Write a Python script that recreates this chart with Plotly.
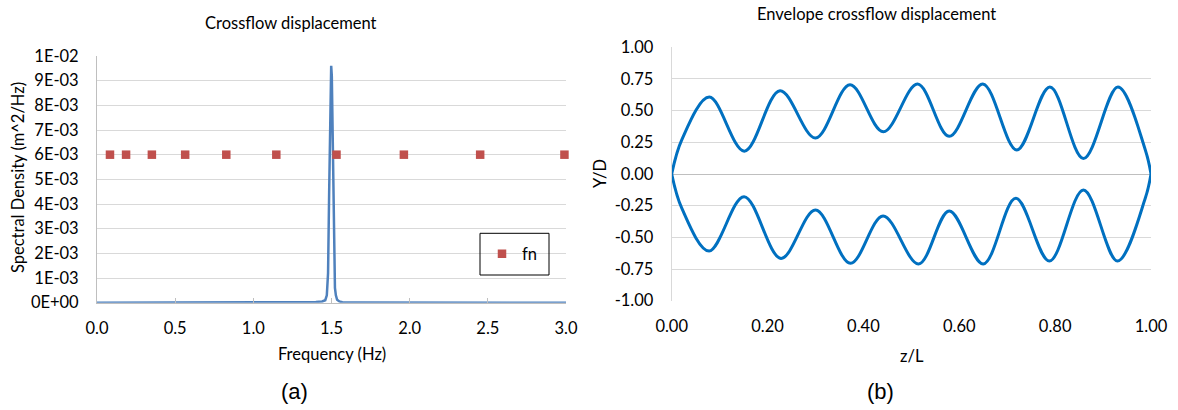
import plotly.graph_objects as go

# ---- Panel (a): crossflow displacement spectrum ----
freq_hz = [0.00, 0.50, 1.00, 1.30, 1.40, 1.44, 1.46, 1.470, 1.478, 1.485, 1.491,
           1.495, 1.498, 1.502, 1.505, 1.508, 1.512, 1.517, 1.522, 1.528, 1.536,
           1.550, 1.570, 1.650, 2.00, 2.50, 3.00]
psd = [0.0, 0.0, 0.0, 0.00001, 0.00003, 0.00005, 0.00010, 0.00030, 0.0012, 0.0045,
       0.0075, 0.0090, 0.0096, 0.0092, 0.0080, 0.0060, 0.0035, 0.0013, 0.0006,
       0.0003, 0.00012, 0.00005, 0.00002, 0.00001, 0.0, 0.0, 0.0]

# natural frequencies
fn_hz = [0.083, 0.186, 0.351, 0.564, 0.827, 1.147, 1.532, 1.963, 2.451, 2.99]
fn_level = [0.006] * len(fn_hz)

psd_ticks = [0.000, 0.001, 0.002, 0.003, 0.004, 0.005, 0.006, 0.007, 0.008, 0.009, 0.010]
psd_tick_labels = ["0E+00", "1E-03", "2E-03", "3E-03", "4E-03", "5E-03",
                   "6E-03", "7E-03", "8E-03", "9E-03", "1E-02"]

# ---- Panel (b): envelope of crossflow displacement ----
z_over_l_up = [0.000, 0.021, 0.0785, 0.1515, 0.226, 0.300, 0.372, 0.4415, 0.513,
               0.579, 0.649, 0.720, 0.789, 0.859, 0.931, 0.988, 1.000]
yd_upper = [0.000, 0.270, 0.607, 0.180, 0.657, 0.284, 0.704, 0.333, 0.710,
            0.297, 0.710, 0.190, 0.686, 0.122, 0.686, 0.192, 0.000]
z_over_l_low = [0.000, 0.021, 0.078, 0.151, 0.228, 0.300, 0.373, 0.441, 0.515,
                0.579, 0.650, 0.718, 0.788, 0.859, 0.930, 0.988, 1.000]
yd_lower = [0.000, -0.270, -0.608, -0.179, -0.666, -0.284, -0.705, -0.331, -0.710,
            -0.292, -0.710, -0.192, -0.687, -0.126, -0.687, -0.192, 0.000]

yd_ticks = [-1.0, -0.75, -0.5, -0.25, 0.0, 0.25, 0.5, 0.75, 1.0]
yd_tick_labels = ["-1.00", "-0.75", "-0.50", "-0.25", "0.00", "0.25", "0.50", "0.75", "1.00"]
zl_ticks = [0.0, 0.2, 0.4, 0.6, 0.8, 1.0]
zl_tick_labels = ["0.00", "0.20", "0.40", "0.60", "0.80", "1.00"]

W, H = 1178, 410
FONT = "Lato, Calibri, sans-serif"
GRID = "#D9D9D9"
AXIS = "#BFBFBF"


def px_x(p):
    return p / W


def px_y(p):
    return 1 - p / H


fig = go.Figure()

fig.add_trace(go.Scatter(
    x=freq_hz, y=psd, mode="lines", name="PSD",
    line=dict(color="#4F81BD", width=2.5),
    xaxis="x", yaxis="y", showlegend=False,
))
fig.add_trace(go.Scatter(
    x=fn_hz, y=fn_level, mode="markers", name="fn",
    marker=dict(symbol="square", size=8.5, color="#C0504D"),
    xaxis="x", yaxis="y", cliponaxis=False,
))
fig.add_trace(go.Scatter(
    x=z_over_l_up, y=yd_upper, mode="lines", line=dict(color="#0070C0", width=3,
    shape="spline", smoothing=1.0), xaxis="x2", yaxis="y2", showlegend=False,
))
fig.add_trace(go.Scatter(
    x=z_over_l_low, y=yd_lower, mode="lines", line=dict(color="#0070C0", width=3,
    shape="spline", smoothing=1.0), xaxis="x2", yaxis="y2", showlegend=False,
))

tick_font = dict(family=FONT, size=16.5, color="#000000")

fig.update_layout(
    width=W, height=H, autosize=False,
    margin=dict(l=0, r=0, t=0, b=0, pad=0, autoexpand=False),
    paper_bgcolor="white", plot_bgcolor="white",
    font=dict(family=FONT, size=16.5, color="#000000"),
    xaxis=dict(
        domain=[px_x(97), px_x(566)], anchor="y", automargin=False,
        range=[0, 3.0], tickvals=[0, 0.5, 1.0, 1.5, 2.0, 2.5, 3.0],
        ticktext=["0.0", "0.5", "1.0", "1.5", "2.0", "2.5", "3.0"],
        showgrid=False, zeroline=False, showline=True, linecolor=AXIS, linewidth=1,
        ticks="inside", ticklen=5, tickcolor=AXIS, tickfont=tick_font,
        ticklabelstandoff=10,
    ),
    yaxis=dict(
        domain=[px_y(302.7), px_y(56)], anchor="x", automargin=False,
        range=[0, 0.010], tickvals=psd_ticks, ticktext=psd_tick_labels,
        showgrid=True, gridcolor=GRID, gridwidth=1, zeroline=False,
        showline=True, linecolor=AXIS, linewidth=1, ticks="", tickfont=tick_font,
        ticklabelstandoff=14,
    ),
    xaxis2=dict(
        domain=[px_x(671.7), px_x(1151)], anchor="y2", automargin=False,
        range=[0, 1.0], tickvals=zl_ticks, ticktext=zl_tick_labels,
        showgrid=False, zeroline=False, showline=False, ticks="", tickfont=tick_font,
        ticklabelstandoff=14,
    ),
    yaxis2=dict(
        domain=[px_y(300.7), px_y(47.3)], anchor="x2", automargin=False,
        range=[-1.0, 1.0], tickvals=yd_ticks, ticktext=yd_tick_labels,
        showgrid=True, gridcolor=GRID, gridwidth=1,
        zeroline=True, zerolinecolor=AXIS, zerolinewidth=1,
        showline=True, linecolor=GRID, linewidth=1, ticks="", tickfont=tick_font,
        ticklabelstandoff=14,
    ),
    legend=dict(
        x=px_x(482), y=px_y(254), xanchor="left", yanchor="middle",
        bgcolor="rgba(0,0,0,0)", borderwidth=0,
        font=dict(family=FONT, size=16.5, color="#000000"),
    ),
    shapes=[
        dict(type="rect", xref="paper", yref="paper",
             x0=px_x(480), x1=px_x(549), y0=px_y(275), y1=px_y(233.3),
             line=dict(color="#000000", width=1), fillcolor="rgba(0,0,0,0)"),
    ],
)

annotations = [
    ("Crossflow displacement", 291, 23, 0, 16.5, FONT),
    ("Frequency (Hz)", 332, 354, 0, 16.5, FONT),
    ("Spectral Density (m^2/Hz)", 18, 178, -90, 16.5, FONT),
    ("(a)", 294, 391, 0, 22, "Liberation Sans, Arial, sans-serif"),
    ("Envelope crossflow displacement", 876, 14, 0, 16.5, FONT),
    ("z/L", 912, 356, 0, 16.5, FONT),
    ("Y/D", 600, 174, -90, 16.5, FONT),
    ("(b)", 880, 391, 0, 22, "Liberation Sans, Arial, sans-serif"),
]
for text, ax, ay, ang, size, fam in annotations:
    fig.add_annotation(
        text=text, xref="paper", yref="paper", x=px_x(ax), y=px_y(ay),
        xanchor="center", yanchor="middle", showarrow=False, textangle=ang,
        font=dict(family=fam, size=size, color="#000000"),
    )

fig.write_html("out.html")
